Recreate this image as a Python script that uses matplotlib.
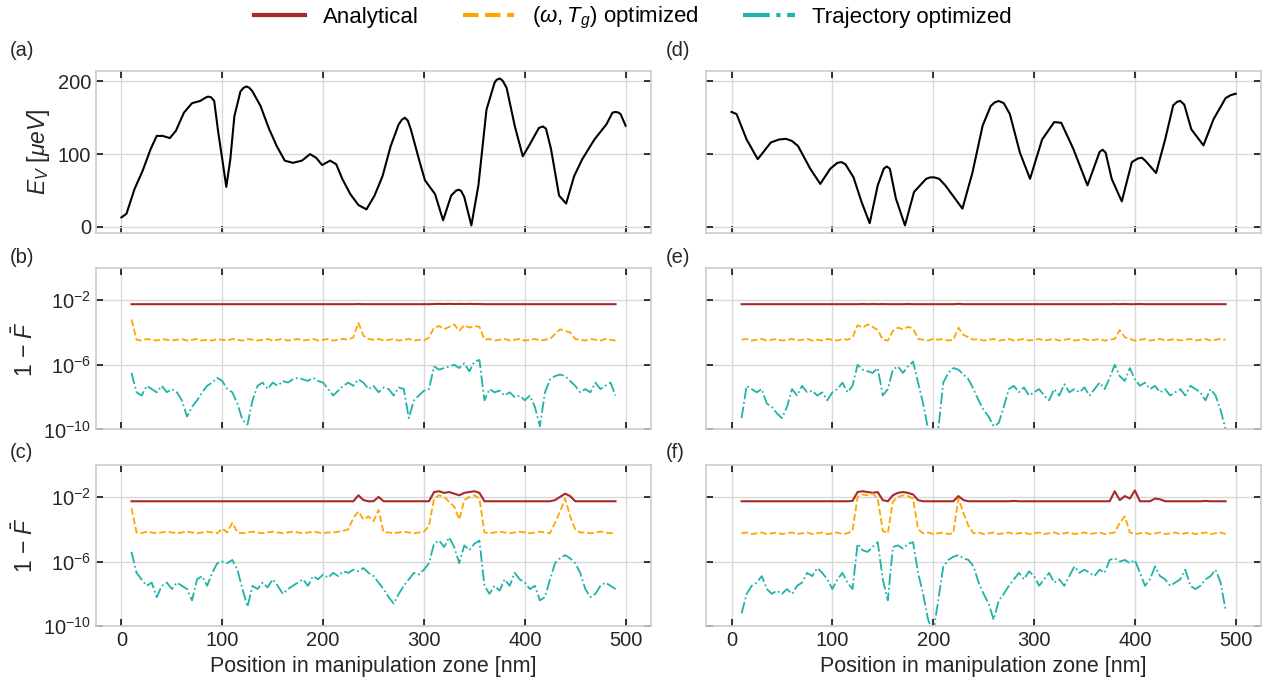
import numpy as np
import matplotlib
matplotlib.use("Agg")
import matplotlib.pyplot as plt
from matplotlib.lines import Line2D
from matplotlib.ticker import FixedLocator, NullLocator, LogFormatterMathtext

plt.rcParams['font.family'] = ['Liberation Sans', 'DejaVu Sans']
plt.rcParams['mathtext.fontset'] = 'custom'
plt.rcParams['mathtext.rm'] = 'Liberation Sans'
plt.rcParams['mathtext.it'] = 'Liberation Sans:italic'
plt.rcParams['mathtext.bf'] = 'Liberation Sans:bold'

# ---- potential landscapes E_V ----
xa = [0, 5, 13, 21, 29, 35, 41, 48, 54, 62, 70, 78, 84, 86, 89, 92, 96, 100, 104, 108,
      112, 118, 121, 124, 127, 130, 138, 146, 154, 162, 170, 179, 187, 193, 199, 207, 213, 219,
      227, 235, 243, 251, 259, 267, 275, 278, 281, 284, 287, 295, 301, 311, 319, 327, 332, 335,
      337, 340, 347, 354, 362, 370, 372, 375, 378, 382, 390, 398, 404, 414, 416, 418, 421, 426,
      434, 441, 449, 457, 469, 481, 487, 490, 493, 495, 500]
ya = [13, 18, 52, 77, 107, 125, 125, 122, 132, 157, 170, 173, 178, 179, 178, 173, 130, 93, 55, 93,
      152, 186, 191, 193, 191, 186, 166, 136, 111, 91, 88, 91, 100, 95, 85, 91, 86, 66,
      45, 30, 24, 43, 70, 111, 141, 147, 150, 146, 134, 93, 64, 45, 9, 43, 50, 51,
      49, 41, 2, 57, 161, 198, 202, 204, 201, 191, 139, 97, 111, 136, 137, 138, 135, 107,
      43, 32, 70, 93, 120, 141, 157, 158, 157, 155, 139]

xd = [0, 5, 15, 26, 39, 47, 54, 60, 66, 78, 88, 98, 105, 109, 113, 121, 129, 137, 145, 151,
      154, 157, 163, 172, 181, 193, 197, 201, 206, 212, 229, 239, 249, 257, 261, 265, 270, 276,
      286, 296, 308, 320, 327, 339, 353, 365, 368, 371, 377, 387, 397, 403, 407, 411, 421, 430,
      438, 442, 445, 449, 456, 468, 478, 490, 495, 500]
yd = [158, 155, 120, 93, 116, 120, 121, 118, 111, 80, 59, 80, 88, 89, 86, 68, 34, 5, 57, 80,
      83, 80, 39, 2, 48, 66, 68, 68, 66, 57, 25, 75, 139, 166, 171, 173, 170, 155,
      102, 66, 120, 144, 143, 107, 57, 103, 106, 102, 66, 35, 89, 94, 95, 90, 74, 120,
      167, 172, 173, 168, 134, 112, 148, 177, 181, 183]

# ---- infidelity, log10(1 - F) at positions 10, 15, ..., 490 nm ----
pos = np.arange(10, 491, 5)

ana_b = [-2.25, -2.25, -2.25, -2.25, -2.25, -2.25, -2.25, -2.25, -2.25, -2.25,
         -2.25, -2.25, -2.25, -2.25, -2.25, -2.25, -2.25, -2.25, -2.25, -2.25,
         -2.25, -2.25, -2.25, -2.25, -2.25, -2.25, -2.25, -2.25, -2.25, -2.25,
         -2.25, -2.25, -2.25, -2.25, -2.25, -2.25, -2.25, -2.25, -2.25, -2.25,
         -2.25, -2.25, -2.25, -2.25, -2.25, -2.24, -2.25, -2.25, -2.25, -2.25,
         -2.25, -2.25, -2.25, -2.25, -2.25, -2.25, -2.25, -2.25, -2.25, -2.25,
         -2.24, -2.23, -2.24, -2.23, -2.24, -2.23, -2.24, -2.23, -2.24, -2.24,
         -2.25, -2.25, -2.25, -2.25, -2.25, -2.25, -2.25, -2.25, -2.25, -2.25,
         -2.25, -2.25, -2.25, -2.25, -2.25, -2.25, -2.25, -2.25, -2.25, -2.25,
         -2.25, -2.25, -2.25, -2.25, -2.25, -2.25, -2.25]
orng_b = [-3.2, -4.45, -4.5, -4.4, -4.45, -4.5, -4.4, -4.45, -4.5, -4.45,
          -4.4, -4.5, -4.45, -4.4, -4.5, -4.45, -4.5, -4.4, -4.45, -4.5,
          -4.4, -4.45, -4.5, -4.4, -4.45, -4.5, -4.45, -4.4, -4.5, -4.45,
          -4.4, -4.5, -4.45, -4.4, -4.5, -4.45, -4.4, -4.5, -4.45, -4.4,
          -4.5, -4.45, -4.4, -4.45, -4.3, -3.4, -4.2, -4.4, -4.45, -4.4,
          -4.5, -4.45, -4.4, -4.5, -4.45, -4.4, -4.5, -4.45, -4.5, -4.3,
          -3.7, -3.6, -3.8, -3.65, -3.5, -3.9, -3.55, -3.7, -3.6, -3.65,
          -4.45, -4.4, -4.5, -4.45, -4.4, -4.5, -4.45, -4.4, -4.5, -4.45,
          -4.4, -4.5, -4.45, -4.4, -4.1, -3.8, -3.9, -4.0, -4.4, -4.45,
          -4.5, -4.4, -4.45, -4.5, -4.4, -4.45, -4.5]
traj_b = [-6.5, -7.7, -7.9, -7.3, -7.5, -7.7, -7.3, -7.7, -7.5, -7.7,
          -8.2, -9.2, -8.6, -8.2, -7.7, -7.3, -7.1, -6.8, -7.0, -7.5,
          -7.7, -8.4, -9.4, -9.7, -8.2, -7.3, -7.1, -7.5, -7.1, -7.3,
          -7.0, -7.1, -6.9, -6.8, -6.9, -7.0, -6.8, -7.0, -7.1, -7.5,
          -7.9, -7.6, -7.3, -7.1, -7.3, -6.9, -7.1, -7.5, -7.3, -7.7,
          -7.4, -7.5, -7.9, -7.4, -7.5, -9.3, -8.2, -7.9, -7.6, -7.5,
          -6.1, -6.3, -6.2, -6.1, -6.0, -6.2, -5.9, -6.4, -5.8, -5.7,
          -8.2, -7.5, -7.7, -7.6, -7.9, -7.7, -8.0, -7.9, -8.2, -7.9,
          -8.6, -9.8, -7.7, -6.9, -6.7, -6.6, -6.7, -7.0, -7.3, -7.7,
          -7.5, -7.7, -7.1, -7.5, -7.3, -7.1, -7.9]

ana_c = [-2.27, -2.27, -2.27, -2.27, -2.27, -2.27, -2.27, -2.27, -2.27, -2.27,
         -2.27, -2.27, -2.27, -2.27, -2.27, -2.27, -2.27, -2.27, -2.27, -2.27,
         -2.27, -2.27, -2.27, -2.27, -2.27, -2.27, -2.27, -2.27, -2.27, -2.27,
         -2.27, -2.27, -2.27, -2.27, -2.27, -2.27, -2.27, -2.27, -2.27, -2.27,
         -2.27, -2.27, -2.27, -2.27, -2.27, -1.9, -2.2, -2.27, -2.27, -2.0,
         -2.27, -2.27, -2.27, -2.27, -2.27, -2.27, -2.27, -2.27, -2.27, -2.27,
         -1.7, -1.65, -1.75, -1.7, -1.8, -1.9, -1.75, -1.7, -1.65, -1.75,
         -2.27, -2.27, -2.27, -2.27, -2.27, -2.27, -2.27, -2.27, -2.27, -2.27,
         -2.27, -2.27, -2.27, -2.27, -2.2, -2.0, -1.8, -1.95, -2.27, -2.27,
         -2.27, -2.27, -2.27, -2.27, -2.27, -2.27, -2.27]
orng_c = [-2.7, -4.2, -4.25, -4.15, -4.2, -4.25, -4.2, -4.15, -4.2, -4.25,
          -4.2, -4.15, -4.2, -4.25, -4.2, -4.15, -4.2, -4.25, -3.95, -4.2,
          -3.6, -4.2, -4.25, -4.2, -4.15, -4.2, -4.25, -4.2, -4.15, -4.2,
          -4.25, -4.2, -4.15, -4.2, -4.25, -4.2, -4.15, -4.2, -4.25, -4.2,
          -4.2, -4.15, -4.1, -4.0, -3.3, -2.9, -3.4, -3.2, -3.5, -2.8,
          -4.2, -4.2, -4.25, -4.2, -4.15, -4.2, -4.25, -4.2, -4.15, -3.8,
          -2.1, -1.9, -2.0, -2.3, -2.6, -3.4, -2.2, -2.0, -1.9, -2.1,
          -4.2, -4.25, -4.2, -4.15, -4.2, -4.25, -4.2, -4.15, -4.2, -4.25,
          -4.2, -4.15, -4.2, -4.25, -3.6, -2.9, -2.1, -3.2, -4.0, -4.2,
          -4.2, -4.25, -4.2, -4.15, -4.2, -4.25, -4.2]
traj_c = [-5.4, -6.7, -7.1, -7.5, -7.3, -8.2, -7.5, -7.3, -7.7, -7.3,
          -7.5, -7.7, -8.4, -7.1, -6.9, -7.5, -6.7, -6.1, -6.0, -6.1,
          -5.9, -6.5, -7.7, -8.8, -7.5, -7.7, -7.3, -7.6, -7.1, -7.5,
          -8.0, -7.7, -7.5, -7.3, -7.1, -7.5, -6.9, -7.1, -6.8, -7.0,
          -6.7, -6.9, -6.6, -6.7, -6.5, -6.6, -6.4, -6.7, -6.9, -7.3,
          -7.7, -8.2, -8.6, -8.0, -7.5, -7.1, -6.7, -6.8, -6.5, -6.1,
          -4.9, -4.7, -5.1, -4.5, -5.1, -6.1, -5.0, -5.3, -4.9, -4.7,
          -7.5, -8.0, -7.5, -7.8, -7.1, -7.5, -6.7, -7.1, -7.3, -7.7,
          -7.5, -8.4, -8.2, -7.1, -6.1, -5.8, -5.6, -5.8, -6.1, -6.7,
          -7.7, -8.2, -8.0, -7.5, -7.3, -7.5, -7.7]

ana_e = [-2.25, -2.25, -2.25, -2.25, -2.25, -2.25, -2.25, -2.25, -2.25, -2.25,
         -2.25, -2.25, -2.25, -2.25, -2.25, -2.25, -2.25, -2.25, -2.25, -2.25,
         -2.25, -2.25, -2.25, -2.25, -2.24, -2.25, -2.24, -2.25, -2.24, -2.25,
         -2.25, -2.25, -2.25, -2.24, -2.25, -2.25, -2.25, -2.25, -2.25, -2.25,
         -2.25, -2.25, -2.25, -2.23, -2.25, -2.25, -2.25, -2.25, -2.25, -2.25,
         -2.25, -2.25, -2.25, -2.25, -2.25, -2.25, -2.25, -2.25, -2.25, -2.25,
         -2.25, -2.25, -2.25, -2.25, -2.25, -2.25, -2.25, -2.25, -2.25, -2.25,
         -2.25, -2.25, -2.25, -2.25, -2.24, -2.25, -2.24, -2.25, -2.25, -2.24,
         -2.25, -2.25, -2.25, -2.25, -2.25, -2.25, -2.25, -2.25, -2.25, -2.25,
         -2.25, -2.25, -2.25, -2.25, -2.25, -2.25, -2.25]
orng_e = [-4.45, -4.4, -4.5, -4.45, -4.4, -4.5, -4.45, -4.4, -4.5, -4.45,
          -4.4, -4.5, -4.45, -4.4, -4.5, -4.45, -4.5, -4.4, -4.45, -4.5,
          -4.4, -4.45, -4.3, -3.55, -3.7, -3.5, -3.65, -3.85, -4.45, -4.5,
          -3.9, -3.7, -3.8, -3.65, -3.75, -4.4, -4.45, -4.5, -4.4, -4.45,
          -4.4, -4.5, -4.45, -3.7, -4.15, -4.3, -4.45, -4.4, -4.5, -4.45,
          -4.4, -4.5, -4.45, -4.4, -4.5, -4.45, -4.4, -4.5, -4.45, -4.4,
          -4.5, -4.45, -4.4, -4.5, -4.45, -4.4, -4.5, -4.45, -4.4, -4.5,
          -4.45, -4.4, -4.5, -4.45, -4.4, -3.85, -4.3, -4.4, -4.5, -4.45,
          -4.4, -4.5, -4.45, -4.4, -4.5, -4.45, -4.4, -4.5, -4.45, -4.4,
          -4.5, -4.45, -4.4, -4.5, -4.45, -4.4, -4.45]
traj_e = [-9.3, -7.3, -7.5, -7.7, -7.5, -8.4, -8.6, -9.0, -9.3, -8.6,
          -7.5, -7.9, -7.3, -7.7, -7.6, -7.9, -7.7, -8.2, -7.7, -7.5,
          -7.1, -7.7, -7.3, -6.0, -6.3, -6.4, -6.5, -6.2, -7.9, -7.5,
          -6.3, -6.1, -6.5, -6.1, -5.8, -7.1, -8.4, -10.0, -10.4, -10.0,
          -7.1, -6.5, -6.2, -6.3, -6.6, -6.9, -7.5, -8.2, -8.8, -9.2,
          -9.8, -9.6, -8.6, -7.5, -7.3, -7.7, -7.4, -7.9, -7.7, -7.5,
          -7.9, -8.2, -7.5, -7.9, -7.2, -7.7, -7.5, -7.7, -7.4, -7.9,
          -7.5, -7.1, -7.5, -6.8, -6.0, -6.7, -7.0, -6.2, -6.9, -7.3,
          -7.1, -7.5, -7.3, -7.7, -7.5, -7.9, -7.7, -7.5, -7.9, -7.3,
          -7.5, -7.7, -8.2, -7.5, -7.9, -8.8, -10.0]

ana_f = [-2.27, -2.27, -2.27, -2.27, -2.27, -2.27, -2.27, -2.27, -2.27, -2.27,
         -2.27, -2.27, -2.27, -2.27, -2.27, -2.27, -2.27, -2.27, -2.27, -2.27,
         -2.27, -2.27, -2.25, -1.7, -1.65, -1.7, -1.75, -1.7, -2.2, -2.27,
         -1.9, -1.75, -1.7, -1.75, -1.85, -2.2, -2.27, -2.27, -2.27, -2.27,
         -2.27, -2.27, -2.27, -1.95, -2.2, -2.27, -2.27, -2.27, -2.27, -2.27,
         -2.27, -2.27, -2.27, -2.27, -2.25, -2.27, -2.27, -2.27, -2.27, -2.27,
         -2.27, -2.27, -2.27, -2.27, -2.27, -2.27, -2.27, -2.27, -2.27, -2.27,
         -2.27, -2.27, -2.27, -2.27, -1.65, -2.2, -1.95, -2.1, -1.6, -2.27,
         -2.27, -2.27, -2.1, -2.15, -2.27, -2.27, -2.27, -2.27, -2.27, -2.27,
         -2.27, -2.27, -2.25, -2.27, -2.27, -2.27, -2.27]
orng_f = [-4.25, -4.2, -4.3, -4.25, -4.2, -4.3, -4.25, -4.2, -4.3, -4.25,
          -4.2, -4.3, -4.25, -4.2, -4.3, -4.25, -4.2, -4.3, -4.25, -4.2,
          -4.3, -4.25, -4.1, -2.0, -1.85, -1.9, -1.8, -2.1, -4.1, -4.25,
          -2.3, -2.0, -1.9, -1.95, -2.1, -4.0, -4.25, -4.2, -4.3, -4.25,
          -4.2, -4.3, -4.25, -2.1, -3.0, -3.8, -4.25, -4.2, -4.3, -4.25,
          -4.2, -4.3, -4.25, -4.2, -4.3, -4.25, -4.2, -4.3, -4.25, -4.2,
          -4.3, -4.25, -4.2, -4.3, -4.25, -4.2, -4.3, -4.25, -4.2, -4.3,
          -4.25, -4.2, -4.3, -4.25, -4.2, -3.6, -3.2, -4.2, -4.3, -4.25,
          -4.2, -4.3, -4.25, -4.2, -4.3, -4.25, -4.2, -4.3, -4.25, -4.2,
          -4.3, -4.25, -4.2, -4.3, -4.25, -4.2, -4.3]
traj_f = [-9.2, -8.0, -7.5, -7.3, -6.9, -7.7, -8.0, -7.8, -8.0, -7.7,
          -8.0, -7.5, -7.3, -6.7, -6.9, -6.4, -6.7, -7.1, -7.7, -7.1,
          -6.7, -7.3, -7.7, -4.9, -5.3, -5.4, -5.1, -4.8, -7.1, -8.4,
          -5.1, -5.0, -5.2, -4.9, -4.8, -6.7, -8.0, -9.6, -10.4, -8.4,
          -6.3, -5.9, -5.7, -5.6, -5.8, -5.9, -6.3, -7.3, -8.0, -8.6,
          -9.6, -8.4, -8.0, -7.5, -7.1, -6.7, -7.1, -6.6, -6.9, -7.5,
          -7.1, -6.7, -7.3, -7.1, -7.5, -6.9, -6.3, -6.7, -6.5, -6.7,
          -6.9, -6.5, -6.7, -5.9, -5.8, -6.0, -5.9, -6.1, -5.9, -6.7,
          -7.5, -7.1, -6.3, -6.9, -7.1, -7.5, -7.3, -7.1, -6.5, -7.5,
          -7.7, -7.5, -7.1, -6.9, -6.5, -7.3, -9.0]

c_ana = '#a52a2a'
c_orng = '#ffa500'
c_traj = '#20b2aa'

fig, axes = plt.subplots(3, 2, figsize=(12.66, 6.77), dpi=100, sharex=True, sharey='row')
fig.subplots_adjust(left=0.076, right=0.996, top=0.895, bottom=0.075, wspace=0.1, hspace=0.217)

axes[0, 0].plot(xa, ya, color='black', lw=1.5)
axes[0, 1].plot(xd, yd, color='black', lw=1.5)

logsets = [(axes[1, 0], ana_b, orng_b, traj_b), (axes[2, 0], ana_c, orng_c, traj_c),
           (axes[1, 1], ana_e, orng_e, traj_e), (axes[2, 1], ana_f, orng_f, traj_f)]
for ax, a, o, t in logsets:
    ax.plot(pos, 10.0 ** np.array(a), color=c_ana, lw=1.5)
    ax.plot(pos, 10.0 ** np.array(o), color=c_orng, lw=1.3, ls='--')
    ax.plot(pos, 10.0 ** np.array(t), color=c_traj, lw=1.3, ls='-.')
    ax.set_yscale('log')
    ax.set_ylim(1e-10, 1)
    ax.yaxis.set_major_locator(FixedLocator([1e-2, 1e-6, 1e-10]))
    ax.yaxis.set_major_formatter(LogFormatterMathtext())
    ax.yaxis.set_minor_locator(NullLocator())

for ax in axes.flat:
    ax.set_xlim(-25, 525)
    ax.set_xticks([0, 100, 200, 300, 400, 500])
    ax.grid(True, color='#d9d9d9', lw=1.0)
    ax.set_axisbelow(True)
    for sp in ax.spines.values():
        sp.set_color('#cccccc')
        sp.set_linewidth(1.2)
    ax.tick_params(direction='in', top=True, right=True, length=5, width=1.1,
                   color='black', labelsize=14.5, labelcolor='#262626')

fid_label = r'$1$ $-$ $\bar{F}$'
axes[0, 0].set_ylabel(r'$E_V$ [$\mu eV$]', fontsize=16.5, color='#262626', labelpad=4)
axes[1, 0].set_ylabel(fid_label, fontsize=16.5, color='#262626')
axes[2, 0].set_ylabel(fid_label, fontsize=16.5, color='#262626')
for ax in axes[2]:
    ax.set_xlabel('Position in manipulation zone [nm]', fontsize=15.5, color='#262626')

labels = ['(a)', '(b)', '(c)', '(d)', '(e)', '(f)']
ys = [0.926, 0.620, 0.332]
for i, lab in enumerate(labels):
    fig.text(0.008 if i < 3 else 0.526, ys[i % 3], lab, fontsize=14.5, ha='left', va='center',
             color='#262626')

handles = [Line2D([], [], color=c_ana, lw=3),
           Line2D([], [], color=c_orng, lw=3, ls='--'),
           Line2D([], [], color=c_traj, lw=3, ls='-.')]
names = ['Analytical', r'$(\omega, T_g)$ optimized', 'Trajectory optimized']
fig.legend(handles, names, loc='center', bbox_to_anchor=(0.5, 0.973), ncol=3, frameon=False,
           fontsize=16, handlelength=2.3, columnspacing=2.0, handletextpad=0.8)

fig.savefig('out.png', dpi=100)
